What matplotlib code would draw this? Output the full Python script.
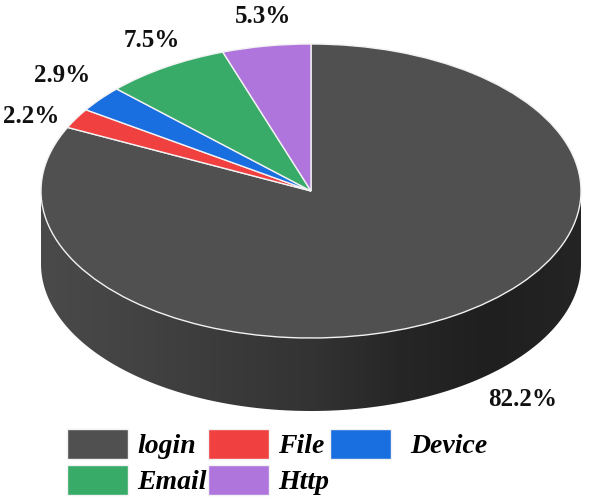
import numpy as np
import matplotlib
matplotlib.use("Agg")
import matplotlib.pyplot as plt
from matplotlib.path import Path
from matplotlib.patches import PathPatch
from matplotlib.colors import LinearSegmentedColormap

categories = ["login", "File", "Device", "Email", "Http"]
values = [82.2, 2.2, 2.9, 7.5, 5.3]
colors = ["#505050", "#f04040", "#1a6fe0", "#38ab68", "#b075dc"]
label_pixels = [(523, 399), (31, 116), (62, 75), (152, 40), (263, 16)]

W, H = 589, 504
cx, cy, rx, ry = 311, 191, 270, 147
depth = 73 / ry

fig = plt.figure(figsize=(W / 100, H / 100), dpi=100)
ax = fig.add_axes([0, 0, 1, 1])
wedges, _ = ax.pie(values, colors=colors, startangle=90, counterclock=False,
                   wedgeprops=dict(edgecolor="#f2f2f2", linewidth=1.0, zorder=3))
xlim = ((0 - cx) / rx, (W - cx) / rx)
ylim = ((cy - H) / ry, cy / ry)


def to_data(px, py):
    return (px - cx) / rx, (cy - py) / ry


# side wall of the cylinder
t = np.linspace(np.pi, 2 * np.pi, 200)
xs = np.concatenate([[-1], np.cos(t), [1, -1]])
ys = np.concatenate([[0], np.sin(t) - depth, [0, 0]])
codes = [Path.MOVETO] + [Path.LINETO] * (len(xs) - 2) + [Path.CLOSEPOLY]
side_path = PathPatch(Path(np.column_stack([xs, ys]), codes), transform=ax.transData,
                      facecolor="none", edgecolor="none")
ax.add_patch(side_path)
cmap = LinearSegmentedColormap.from_list(
    "side", ["#4a4a4a", "#434343", "#3b3b3b", "#333333", "#262626", "#1f1f1f", "#242424"])
img = ax.imshow(np.linspace(0, 1, 256)[None, :], cmap=cmap, aspect="auto",
                extent=(-1, 1, -1 - depth, 0), zorder=2)
img.set_clip_path(side_path)

ax.set_aspect("auto")
ax.set_xlim(*xlim)
ax.set_ylim(*ylim)
ax.axis("off")

serif = "Liberation Serif"
for v, (px, py) in zip(values, label_pixels):
    x, y = to_data(px, py)
    ax.text(x, y, f"{v:.1f}%", family=serif, weight="bold", fontsize=18,
            ha="center", va="center", color="#111111", zorder=5)

order = [0, 3, 1, 4, 2]
leg = ax.legend([wedges[i] for i in order], [categories[i] for i in order],
                ncol=3, loc="upper left", bbox_to_anchor=(67 / W, 1 - 429 / H),
                frameon=False, borderpad=0, borderaxespad=0,
                handlelength=2.2, handleheight=1.26, handletextpad=0.33,
                columnspacing=0.03, labelspacing=0.22,
                prop=dict(family=serif, style="italic", weight="bold", size=20))
leg.get_texts()[4].set_position((10, 0))

fig.savefig("out.png", dpi=100)
